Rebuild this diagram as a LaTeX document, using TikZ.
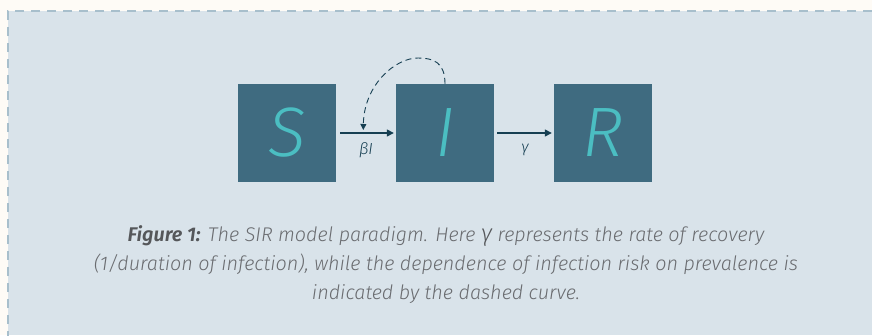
\documentclass[tikz,border=0pt]{standalone}
\usepackage{fontspec}
\IfFontExistsTF{Fira Sans Light}{%
  \setmainfont{Fira Sans Light}[
    ItalicFont={Fira Sans Light Italic},
    BoldFont={Fira Sans SemiBold},
    BoldItalicFont={Fira Sans SemiBold Italic}]
}{%
  \setmainfont{Fira Sans}
}
\usetikzlibrary{arrows.meta}

\definecolor{paper}{HTML}{FEFBF6}
\definecolor{panel}{HTML}{D9E3EA}
\definecolor{panelrule}{HTML}{A8BFCC}
\definecolor{compartment}{HTML}{3F6B80}
\definecolor{letter}{HTML}{4BBEC2}
\definecolor{flow}{HTML}{163F52}
\definecolor{captiontext}{HTML}{6A6C70}
\definecolor{captionhead}{HTML}{55575A}

\tikzset{
  compbox/.style={fill=compartment, draw=none, minimum width=98pt,
    minimum height=98pt, inner sep=0pt, text=letter,
    font=\fontsize{70}{70}\selectfont\itshape},
  flowarrow/.style={draw=flow, line width=1.3pt,
    -{Triangle[length=7pt,width=7pt]}},
  feedback/.style={draw=flow, line width=0.9pt, dash pattern=on 6pt off 4pt,
    -{Triangle[length=6pt,width=6pt]}},
  ratelabel/.style={text=flow, font=\fontsize{16}{16}\selectfont\itshape,
    inner sep=0pt},
  captionstyle/.style={text=captiontext, align=center, inner sep=0pt,
    font=\fontsize{19.8}{29}\selectfont\itshape}
}

\begin{document}
\begin{tikzpicture}[x=1pt, y=-1pt]
  % page and panel
  \useasboundingbox (0,0) rectangle (872,335);
  \fill[paper] (0,0) rectangle (872,335);
  \fill[panel] (8,11) rectangle (872,335);
  \draw[panelrule, line width=2pt, dash pattern=on 9pt off 7pt]
    (8,340) -- (8,11) -- (872,11);

  % compartments
  \node[compbox] (S) at (287,133) {S};
  \node[compbox] (I) at (445,133) {I};
  \node[compbox] (R) at (603,133) {R};

  % transitions
  \draw[flowarrow] ([xshift=4pt]S.east) -- ([xshift=-2pt]I.west)
    coordinate[pos=0.43] (hit);
  \draw[flowarrow] ([xshift=3pt]I.east) -- ([xshift=-2pt]R.west);
  \node[ratelabel] (beta) at (366,150) {βI};
  \node[ratelabel] (gamma) at (525,150) {γ};

  % infection pressure from I acting on the S -> I flow
  \coordinate (Itop) at (I.north);
  \draw[feedback] (Itop) .. controls (445,62) and (433,58) .. (418,58)
    .. controls (395,58) and (364,85) .. ([yshift=3pt]hit);

  % caption
  \node[captionstyle] (caption) at (446,265) {%
    {\bfseries\color{captionhead}Figure 1:} The SIR model paradigm. Here
    {\fontsize{24}{29}\selectfont\color{captionhead}γ} represents the rate of recovery\\
    (1/duration of infection), while the dependence of infection risk on prevalence is\\
    indicated by the dashed curve.};
\end{tikzpicture}
\end{document}
